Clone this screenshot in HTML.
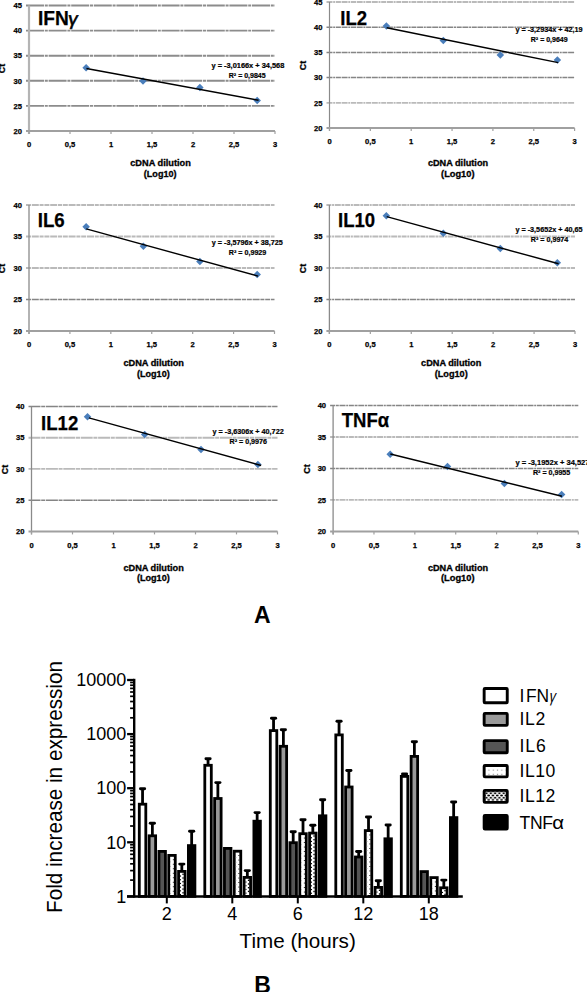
<!DOCTYPE html>
<html><head><meta charset="utf-8"><style>html,body{margin:0;padding:0;background:#fff;overflow:hidden}</style></head>
<body>
<svg width="587" height="992" viewBox="0 0 587 992" style="display:block">
<defs>
<pattern id="p10" x="486.8" y="766.4" width="4.3" height="4.1" patternUnits="userSpaceOnUse"><rect width="4.3" height="4.1" fill="#fff"/><rect x="1.6" y="3.5" width="1.1" height="1.0" fill="#222"/></pattern>
<pattern id="p12" x="486.5" y="793.3" width="4.3" height="4.4" patternUnits="userSpaceOnUse"><rect width="4.3" height="4.4" fill="#fff"/><ellipse cx="0" cy="0" rx="1.35" ry="0.85" fill="#000"/><ellipse cx="4.3" cy="0" rx="1.35" ry="0.85" fill="#000"/><ellipse cx="2.15" cy="2.2" rx="1.35" ry="0.85" fill="#000"/><ellipse cx="0" cy="4.4" rx="1.35" ry="0.85" fill="#000"/><ellipse cx="4.3" cy="4.4" rx="1.35" ry="0.85" fill="#000"/></pattern>
</defs>
<rect width="587" height="992" fill="#fff"/>
<line x1="26" y1="5.50" x2="275" y2="5.50" stroke="#8c8c8c" stroke-width="1.9" stroke-dasharray="18 0.8 3 0.8"/>
<text x="22" y="8.20" text-anchor="end" font-family='"Liberation Sans", sans-serif' font-weight="bold" font-size="7.6" stroke="#000" stroke-width="0.25">45</text>
<line x1="26" y1="30.60" x2="275" y2="30.60" stroke="#8c8c8c" stroke-width="1.9" stroke-dasharray="18 0.8 3 0.8"/>
<text x="22" y="33.30" text-anchor="end" font-family='"Liberation Sans", sans-serif' font-weight="bold" font-size="7.6" stroke="#000" stroke-width="0.25">40</text>
<line x1="26" y1="55.70" x2="275" y2="55.70" stroke="#8c8c8c" stroke-width="1.9" stroke-dasharray="18 0.8 3 0.8"/>
<text x="22" y="58.40" text-anchor="end" font-family='"Liberation Sans", sans-serif' font-weight="bold" font-size="7.6" stroke="#000" stroke-width="0.25">35</text>
<line x1="26" y1="80.80" x2="275" y2="80.80" stroke="#8c8c8c" stroke-width="1.9" stroke-dasharray="18 0.8 3 0.8"/>
<text x="22" y="83.50" text-anchor="end" font-family='"Liberation Sans", sans-serif' font-weight="bold" font-size="7.6" stroke="#000" stroke-width="0.25">30</text>
<line x1="26" y1="105.90" x2="275" y2="105.90" stroke="#8c8c8c" stroke-width="1.9" stroke-dasharray="18 0.8 3 0.8"/>
<text x="22" y="108.60" text-anchor="end" font-family='"Liberation Sans", sans-serif' font-weight="bold" font-size="7.6" stroke="#000" stroke-width="0.25">25</text>
<text x="22" y="133.70" text-anchor="end" font-family='"Liberation Sans", sans-serif' font-weight="bold" font-size="7.6" stroke="#000" stroke-width="0.25">20</text>
<line x1="29" y1="5.5" x2="29" y2="134" stroke="#b4b4b4" stroke-width="2.2"/>
<line x1="26" y1="131" x2="275" y2="131" stroke="#a0a0a0" stroke-width="2"/>
<line x1="29.00" y1="131" x2="29.00" y2="134" stroke="#a0a0a0" stroke-width="1.2"/>
<text x="29.00" y="147.30" text-anchor="middle" font-family='"Liberation Sans", sans-serif' font-weight="bold" font-size="7.6" stroke="#000" stroke-width="0.25">0</text>
<line x1="70.00" y1="131" x2="70.00" y2="134" stroke="#a0a0a0" stroke-width="1.2"/>
<text x="70.00" y="147.30" text-anchor="middle" font-family='"Liberation Sans", sans-serif' font-weight="bold" font-size="7.6" stroke="#000" stroke-width="0.25">0,5</text>
<line x1="111.00" y1="131" x2="111.00" y2="134" stroke="#a0a0a0" stroke-width="1.2"/>
<text x="111.00" y="147.30" text-anchor="middle" font-family='"Liberation Sans", sans-serif' font-weight="bold" font-size="7.6" stroke="#000" stroke-width="0.25">1</text>
<line x1="152.00" y1="131" x2="152.00" y2="134" stroke="#a0a0a0" stroke-width="1.2"/>
<text x="152.00" y="147.30" text-anchor="middle" font-family='"Liberation Sans", sans-serif' font-weight="bold" font-size="7.6" stroke="#000" stroke-width="0.25">1,5</text>
<line x1="193.00" y1="131" x2="193.00" y2="134" stroke="#a0a0a0" stroke-width="1.2"/>
<text x="193.00" y="147.30" text-anchor="middle" font-family='"Liberation Sans", sans-serif' font-weight="bold" font-size="7.6" stroke="#000" stroke-width="0.25">2</text>
<line x1="234.00" y1="131" x2="234.00" y2="134" stroke="#a0a0a0" stroke-width="1.2"/>
<text x="234.00" y="147.30" text-anchor="middle" font-family='"Liberation Sans", sans-serif' font-weight="bold" font-size="7.6" stroke="#000" stroke-width="0.25">2,5</text>
<line x1="275.00" y1="131" x2="275.00" y2="134" stroke="#a0a0a0" stroke-width="1.2"/>
<text x="275.00" y="147.30" text-anchor="middle" font-family='"Liberation Sans", sans-serif' font-weight="bold" font-size="7.6" stroke="#000" stroke-width="0.25">3</text>
<rect x="83.45" y="65.05" width="5.3" height="5.3" fill="#4a7ebb" transform="rotate(45 86.10 67.70)"/>
<rect x="140.35" y="78.25" width="5.3" height="5.3" fill="#4a7ebb" transform="rotate(45 143.00 80.90)"/>
<rect x="197.25" y="84.85" width="5.3" height="5.3" fill="#4a7ebb" transform="rotate(45 199.90 87.50)"/>
<rect x="254.55" y="97.75" width="5.3" height="5.3" fill="#4a7ebb" transform="rotate(45 257.20 100.40)"/>
<line x1="86.40" y1="68.47" x2="258.60" y2="100.27" stroke="#000" stroke-width="1.4"/>
<text x="38.0" y="25.1" font-family='"Liberation Sans", sans-serif' font-weight="bold" font-size="19.8" stroke="#000" stroke-width="0.25" textLength="30.8" lengthAdjust="spacingAndGlyphs">IFN</text>
<text x="0" y="0" transform="translate(67.6 25.1) skewX(-8)" font-family='"Liberation Sans", sans-serif' font-size="18.5" stroke="#000" stroke-width="0.6" textLength="9.6" lengthAdjust="spacingAndGlyphs">γ</text>
<text x="211.5" y="68.4" font-family='"Liberation Sans", sans-serif' font-weight="bold" font-size="7" stroke="#000" stroke-width="0.2" textLength="72.8" lengthAdjust="spacingAndGlyphs">y = -3,0166x + 34,568</text>
<text x="228.8" y="78.4" font-family='"Liberation Sans", sans-serif' font-weight="bold" font-size="7" stroke="#000" stroke-width="0.2" textLength="36.8" lengthAdjust="spacingAndGlyphs">R² = 0,9845</text>
<text x="130.2" y="166" font-family='"Liberation Sans", sans-serif' font-weight="bold" font-size="8.6" stroke="#000" stroke-width="0.3" textLength="60.6" lengthAdjust="spacingAndGlyphs">cDNA dilution</text>
<text x="143.8" y="176.6" font-family='"Liberation Sans", sans-serif' font-weight="bold" font-size="8.6" stroke="#000" stroke-width="0.3" textLength="32.7" lengthAdjust="spacingAndGlyphs">(Log10)</text>
<text x="5.0" y="68.5" text-anchor="middle" transform="rotate(-90 5.0 68.5)" font-family='"Liberation Sans", sans-serif' font-weight="bold" font-size="8.8" stroke="#000" stroke-width="0.3">Ct</text>
<line x1="326.5" y1="2.00" x2="574.6" y2="2.00" stroke="#bababa" stroke-width="1.8" stroke-dasharray="6 0.7 2 0.7 5 0.7"/>
<text x="322.5" y="4.70" text-anchor="end" font-family='"Liberation Sans", sans-serif' font-weight="bold" font-size="7.6" stroke="#000" stroke-width="0.25">45</text>
<line x1="326.5" y1="27.20" x2="574.6" y2="27.20" stroke="#858585" stroke-width="1.5" stroke-dasharray="6 0.7 2 0.7 5 0.7"/>
<text x="322.5" y="29.90" text-anchor="end" font-family='"Liberation Sans", sans-serif' font-weight="bold" font-size="7.6" stroke="#000" stroke-width="0.25">40</text>
<line x1="326.5" y1="52.40" x2="574.6" y2="52.40" stroke="#858585" stroke-width="1.5" stroke-dasharray="6 0.7 2 0.7 5 0.7"/>
<text x="322.5" y="55.10" text-anchor="end" font-family='"Liberation Sans", sans-serif' font-weight="bold" font-size="7.6" stroke="#000" stroke-width="0.25">35</text>
<line x1="326.5" y1="77.60" x2="574.6" y2="77.60" stroke="#858585" stroke-width="1.5" stroke-dasharray="6 0.7 2 0.7 5 0.7"/>
<text x="322.5" y="80.30" text-anchor="end" font-family='"Liberation Sans", sans-serif' font-weight="bold" font-size="7.6" stroke="#000" stroke-width="0.25">30</text>
<line x1="326.5" y1="102.80" x2="574.6" y2="102.80" stroke="#bababa" stroke-width="1.8" stroke-dasharray="6 0.7 2 0.7 5 0.7"/>
<text x="322.5" y="105.50" text-anchor="end" font-family='"Liberation Sans", sans-serif' font-weight="bold" font-size="7.6" stroke="#000" stroke-width="0.25">25</text>
<text x="322.5" y="130.70" text-anchor="end" font-family='"Liberation Sans", sans-serif' font-weight="bold" font-size="7.6" stroke="#000" stroke-width="0.25">20</text>
<line x1="329.5" y1="2" x2="329.5" y2="131" stroke="#8a8a8a" stroke-width="1.2"/>
<line x1="326.5" y1="128" x2="574.6" y2="128" stroke="#a0a0a0" stroke-width="2"/>
<line x1="329.50" y1="128" x2="329.50" y2="131" stroke="#a0a0a0" stroke-width="1.2"/>
<text x="329.50" y="144.30" text-anchor="middle" font-family='"Liberation Sans", sans-serif' font-weight="bold" font-size="7.6" stroke="#000" stroke-width="0.25">0</text>
<line x1="370.35" y1="128" x2="370.35" y2="131" stroke="#a0a0a0" stroke-width="1.2"/>
<text x="370.35" y="144.30" text-anchor="middle" font-family='"Liberation Sans", sans-serif' font-weight="bold" font-size="7.6" stroke="#000" stroke-width="0.25">0,5</text>
<line x1="411.20" y1="128" x2="411.20" y2="131" stroke="#a0a0a0" stroke-width="1.2"/>
<text x="411.20" y="144.30" text-anchor="middle" font-family='"Liberation Sans", sans-serif' font-weight="bold" font-size="7.6" stroke="#000" stroke-width="0.25">1</text>
<line x1="452.05" y1="128" x2="452.05" y2="131" stroke="#a0a0a0" stroke-width="1.2"/>
<text x="452.05" y="144.30" text-anchor="middle" font-family='"Liberation Sans", sans-serif' font-weight="bold" font-size="7.6" stroke="#000" stroke-width="0.25">1,5</text>
<line x1="492.90" y1="128" x2="492.90" y2="131" stroke="#a0a0a0" stroke-width="1.2"/>
<text x="492.90" y="144.30" text-anchor="middle" font-family='"Liberation Sans", sans-serif' font-weight="bold" font-size="7.6" stroke="#000" stroke-width="0.25">2</text>
<line x1="533.75" y1="128" x2="533.75" y2="131" stroke="#a0a0a0" stroke-width="1.2"/>
<text x="533.75" y="144.30" text-anchor="middle" font-family='"Liberation Sans", sans-serif' font-weight="bold" font-size="7.6" stroke="#000" stroke-width="0.25">2,5</text>
<line x1="574.60" y1="128" x2="574.60" y2="131" stroke="#a0a0a0" stroke-width="1.2"/>
<text x="574.60" y="144.30" text-anchor="middle" font-family='"Liberation Sans", sans-serif' font-weight="bold" font-size="7.6" stroke="#000" stroke-width="0.25">3</text>
<rect x="383.75" y="23.25" width="5.3" height="5.3" fill="#4a7ebb" transform="rotate(45 386.40 25.90)"/>
<rect x="440.65" y="37.95" width="5.3" height="5.3" fill="#4a7ebb" transform="rotate(45 443.30 40.60)"/>
<rect x="497.65" y="52.25" width="5.3" height="5.3" fill="#4a7ebb" transform="rotate(45 500.30 54.90)"/>
<rect x="554.75" y="57.35" width="5.3" height="5.3" fill="#4a7ebb" transform="rotate(45 557.40 60.00)"/>
<line x1="386.69" y1="27.78" x2="558.26" y2="62.64" stroke="#000" stroke-width="1.4"/>
<text x="340.3" y="25.1" font-family='"Liberation Sans", sans-serif' font-weight="bold" font-size="19.8" stroke="#000" stroke-width="0.25" textLength="26.8" lengthAdjust="spacingAndGlyphs">IL2</text>
<text x="515.4" y="32" font-family='"Liberation Sans", sans-serif' font-weight="bold" font-size="7" stroke="#000" stroke-width="0.2" textLength="67.2" lengthAdjust="spacingAndGlyphs">y = -3,2934x + 42,19</text>
<text x="530.8" y="41.8" font-family='"Liberation Sans", sans-serif' font-weight="bold" font-size="7" stroke="#000" stroke-width="0.2" textLength="36.8" lengthAdjust="spacingAndGlyphs">R² = 0,9649</text>
<text x="427.9" y="166.1" font-family='"Liberation Sans", sans-serif' font-weight="bold" font-size="8.6" stroke="#000" stroke-width="0.3" textLength="60.2" lengthAdjust="spacingAndGlyphs">cDNA dilution</text>
<text x="441.1" y="176.6" font-family='"Liberation Sans", sans-serif' font-weight="bold" font-size="8.6" stroke="#000" stroke-width="0.3" textLength="33.4" lengthAdjust="spacingAndGlyphs">(Log10)</text>
<text x="306" y="65.5" text-anchor="middle" transform="rotate(-90 306 65.5)" font-family='"Liberation Sans", sans-serif' font-weight="bold" font-size="8.8" stroke="#000" stroke-width="0.3">Ct</text>
<line x1="26" y1="205.00" x2="274.5" y2="205.00" stroke="#bababa" stroke-width="1.8" stroke-dasharray="5 0.8 7 0.8 4 0.8"/>
<text x="22" y="207.70" text-anchor="end" font-family='"Liberation Sans", sans-serif' font-weight="bold" font-size="7.6" stroke="#000" stroke-width="0.25">40</text>
<line x1="26" y1="236.50" x2="274.5" y2="236.50" stroke="#bababa" stroke-width="1.8" stroke-dasharray="5 0.8 7 0.8 4 0.8"/>
<text x="22" y="239.20" text-anchor="end" font-family='"Liberation Sans", sans-serif' font-weight="bold" font-size="7.6" stroke="#000" stroke-width="0.25">35</text>
<line x1="26" y1="268.00" x2="274.5" y2="268.00" stroke="#bababa" stroke-width="1.8" stroke-dasharray="5 0.8 7 0.8 4 0.8"/>
<text x="22" y="270.70" text-anchor="end" font-family='"Liberation Sans", sans-serif' font-weight="bold" font-size="7.6" stroke="#000" stroke-width="0.25">30</text>
<line x1="26" y1="299.50" x2="274.5" y2="299.50" stroke="#858585" stroke-width="1.5" stroke-dasharray="5 0.8 7 0.8 4 0.8"/>
<text x="22" y="302.20" text-anchor="end" font-family='"Liberation Sans", sans-serif' font-weight="bold" font-size="7.6" stroke="#000" stroke-width="0.25">25</text>
<text x="22" y="333.70" text-anchor="end" font-family='"Liberation Sans", sans-serif' font-weight="bold" font-size="7.6" stroke="#000" stroke-width="0.25">20</text>
<line x1="29" y1="205" x2="29" y2="334" stroke="#8a8a8a" stroke-width="1.3"/>
<line x1="26" y1="331" x2="274.5" y2="331" stroke="#a0a0a0" stroke-width="2"/>
<line x1="29.00" y1="331" x2="29.00" y2="334" stroke="#a0a0a0" stroke-width="1.2"/>
<text x="29.00" y="347.30" text-anchor="middle" font-family='"Liberation Sans", sans-serif' font-weight="bold" font-size="7.6" stroke="#000" stroke-width="0.25">0</text>
<line x1="69.92" y1="331" x2="69.92" y2="334" stroke="#a0a0a0" stroke-width="1.2"/>
<text x="69.92" y="347.30" text-anchor="middle" font-family='"Liberation Sans", sans-serif' font-weight="bold" font-size="7.6" stroke="#000" stroke-width="0.25">0,5</text>
<line x1="110.83" y1="331" x2="110.83" y2="334" stroke="#a0a0a0" stroke-width="1.2"/>
<text x="110.83" y="347.30" text-anchor="middle" font-family='"Liberation Sans", sans-serif' font-weight="bold" font-size="7.6" stroke="#000" stroke-width="0.25">1</text>
<line x1="151.75" y1="331" x2="151.75" y2="334" stroke="#a0a0a0" stroke-width="1.2"/>
<text x="151.75" y="347.30" text-anchor="middle" font-family='"Liberation Sans", sans-serif' font-weight="bold" font-size="7.6" stroke="#000" stroke-width="0.25">1,5</text>
<line x1="192.67" y1="331" x2="192.67" y2="334" stroke="#a0a0a0" stroke-width="1.2"/>
<text x="192.67" y="347.30" text-anchor="middle" font-family='"Liberation Sans", sans-serif' font-weight="bold" font-size="7.6" stroke="#000" stroke-width="0.25">2</text>
<line x1="233.58" y1="331" x2="233.58" y2="334" stroke="#a0a0a0" stroke-width="1.2"/>
<text x="233.58" y="347.30" text-anchor="middle" font-family='"Liberation Sans", sans-serif' font-weight="bold" font-size="7.6" stroke="#000" stroke-width="0.25">2,5</text>
<line x1="274.50" y1="331" x2="274.50" y2="334" stroke="#a0a0a0" stroke-width="1.2"/>
<text x="274.50" y="347.30" text-anchor="middle" font-family='"Liberation Sans", sans-serif' font-weight="bold" font-size="7.6" stroke="#000" stroke-width="0.25">3</text>
<rect x="83.45" y="224.15" width="5.3" height="5.3" fill="#4a7ebb" transform="rotate(45 86.10 226.80)"/>
<rect x="140.75" y="243.55" width="5.3" height="5.3" fill="#4a7ebb" transform="rotate(45 143.40 246.20)"/>
<rect x="197.25" y="258.95" width="5.3" height="5.3" fill="#4a7ebb" transform="rotate(45 199.90 261.60)"/>
<rect x="254.55" y="271.85" width="5.3" height="5.3" fill="#4a7ebb" transform="rotate(45 257.20 274.50)"/>
<line x1="86.28" y1="228.82" x2="258.13" y2="276.18" stroke="#000" stroke-width="1.4"/>
<text x="37.7" y="227.2" font-family='"Liberation Sans", sans-serif' font-weight="bold" font-size="19.8" stroke="#000" stroke-width="0.25" textLength="27.0" lengthAdjust="spacingAndGlyphs">IL6</text>
<text x="211.8" y="245" font-family='"Liberation Sans", sans-serif' font-weight="bold" font-size="7" stroke="#000" stroke-width="0.2" textLength="71.1" lengthAdjust="spacingAndGlyphs">y = -3,5796x + 38,725</text>
<text x="228.8" y="254.5" font-family='"Liberation Sans", sans-serif' font-weight="bold" font-size="7" stroke="#000" stroke-width="0.2" textLength="37.5" lengthAdjust="spacingAndGlyphs">R² = 0,9929</text>
<text x="123.4" y="366.3" font-family='"Liberation Sans", sans-serif' font-weight="bold" font-size="8.6" stroke="#000" stroke-width="0.3" textLength="60.6" lengthAdjust="spacingAndGlyphs">cDNA dilution</text>
<text x="137" y="376.6" font-family='"Liberation Sans", sans-serif' font-weight="bold" font-size="8.6" stroke="#000" stroke-width="0.3" textLength="32.7" lengthAdjust="spacingAndGlyphs">(Log10)</text>
<text x="5.0" y="268.5" text-anchor="middle" transform="rotate(-90 5.0 268.5)" font-family='"Liberation Sans", sans-serif' font-weight="bold" font-size="8.8" stroke="#000" stroke-width="0.3">Ct</text>
<line x1="326.4" y1="205.00" x2="575" y2="205.00" stroke="#bababa" stroke-width="1.8" stroke-dasharray="5 0.7 2 0.7 6 0.7 3 0.7"/>
<text x="322.4" y="207.70" text-anchor="end" font-family='"Liberation Sans", sans-serif' font-weight="bold" font-size="7.6" stroke="#000" stroke-width="0.25">40</text>
<line x1="326.4" y1="236.50" x2="575" y2="236.50" stroke="#bababa" stroke-width="1.8" stroke-dasharray="5 0.7 2 0.7 6 0.7 3 0.7"/>
<text x="322.4" y="239.20" text-anchor="end" font-family='"Liberation Sans", sans-serif' font-weight="bold" font-size="7.6" stroke="#000" stroke-width="0.25">35</text>
<line x1="326.4" y1="268.00" x2="575" y2="268.00" stroke="#bababa" stroke-width="1.8" stroke-dasharray="5 0.7 2 0.7 6 0.7 3 0.7"/>
<text x="322.4" y="270.70" text-anchor="end" font-family='"Liberation Sans", sans-serif' font-weight="bold" font-size="7.6" stroke="#000" stroke-width="0.25">30</text>
<line x1="326.4" y1="299.50" x2="575" y2="299.50" stroke="#858585" stroke-width="1.5" stroke-dasharray="5 0.7 2 0.7 6 0.7 3 0.7"/>
<text x="322.4" y="302.20" text-anchor="end" font-family='"Liberation Sans", sans-serif' font-weight="bold" font-size="7.6" stroke="#000" stroke-width="0.25">25</text>
<text x="322.4" y="333.70" text-anchor="end" font-family='"Liberation Sans", sans-serif' font-weight="bold" font-size="7.6" stroke="#000" stroke-width="0.25">20</text>
<line x1="329.4" y1="205" x2="329.4" y2="334" stroke="#8a8a8a" stroke-width="1.3"/>
<line x1="326.4" y1="331" x2="575" y2="331" stroke="#a0a0a0" stroke-width="2"/>
<line x1="329.40" y1="331" x2="329.40" y2="334" stroke="#a0a0a0" stroke-width="1.2"/>
<text x="329.40" y="347.30" text-anchor="middle" font-family='"Liberation Sans", sans-serif' font-weight="bold" font-size="7.6" stroke="#000" stroke-width="0.25">0</text>
<line x1="370.33" y1="331" x2="370.33" y2="334" stroke="#a0a0a0" stroke-width="1.2"/>
<text x="370.33" y="347.30" text-anchor="middle" font-family='"Liberation Sans", sans-serif' font-weight="bold" font-size="7.6" stroke="#000" stroke-width="0.25">0,5</text>
<line x1="411.27" y1="331" x2="411.27" y2="334" stroke="#a0a0a0" stroke-width="1.2"/>
<text x="411.27" y="347.30" text-anchor="middle" font-family='"Liberation Sans", sans-serif' font-weight="bold" font-size="7.6" stroke="#000" stroke-width="0.25">1</text>
<line x1="452.20" y1="331" x2="452.20" y2="334" stroke="#a0a0a0" stroke-width="1.2"/>
<text x="452.20" y="347.30" text-anchor="middle" font-family='"Liberation Sans", sans-serif' font-weight="bold" font-size="7.6" stroke="#000" stroke-width="0.25">1,5</text>
<line x1="493.13" y1="331" x2="493.13" y2="334" stroke="#a0a0a0" stroke-width="1.2"/>
<text x="493.13" y="347.30" text-anchor="middle" font-family='"Liberation Sans", sans-serif' font-weight="bold" font-size="7.6" stroke="#000" stroke-width="0.25">2</text>
<line x1="534.07" y1="331" x2="534.07" y2="334" stroke="#a0a0a0" stroke-width="1.2"/>
<text x="534.07" y="347.30" text-anchor="middle" font-family='"Liberation Sans", sans-serif' font-weight="bold" font-size="7.6" stroke="#000" stroke-width="0.25">2,5</text>
<line x1="575.00" y1="331" x2="575.00" y2="334" stroke="#a0a0a0" stroke-width="1.2"/>
<text x="575.00" y="347.30" text-anchor="middle" font-family='"Liberation Sans", sans-serif' font-weight="bold" font-size="7.6" stroke="#000" stroke-width="0.25">3</text>
<rect x="383.65" y="213.15" width="5.3" height="5.3" fill="#4a7ebb" transform="rotate(45 386.30 215.80)"/>
<rect x="440.65" y="230.55" width="5.3" height="5.3" fill="#4a7ebb" transform="rotate(45 443.30 233.20)"/>
<rect x="497.65" y="245.85" width="5.3" height="5.3" fill="#4a7ebb" transform="rotate(45 500.30 248.50)"/>
<rect x="554.65" y="260.15" width="5.3" height="5.3" fill="#4a7ebb" transform="rotate(45 557.30 262.80)"/>
<line x1="386.71" y1="216.63" x2="558.63" y2="263.80" stroke="#000" stroke-width="1.4"/>
<text x="338.0" y="227.2" font-family='"Liberation Sans", sans-serif' font-weight="bold" font-size="19.8" stroke="#000" stroke-width="0.25" textLength="37.2" lengthAdjust="spacingAndGlyphs">IL10</text>
<text x="515.4" y="232.3" font-family='"Liberation Sans", sans-serif' font-weight="bold" font-size="7" stroke="#000" stroke-width="0.2" textLength="67.2" lengthAdjust="spacingAndGlyphs">y = -3,5652x + 40,65</text>
<text x="530.8" y="241.8" font-family='"Liberation Sans", sans-serif' font-weight="bold" font-size="7" stroke="#000" stroke-width="0.2" textLength="37.5" lengthAdjust="spacingAndGlyphs">R² = 0,9974</text>
<text x="421.1" y="366.3" font-family='"Liberation Sans", sans-serif' font-weight="bold" font-size="8.6" stroke="#000" stroke-width="0.3" textLength="60.2" lengthAdjust="spacingAndGlyphs">cDNA dilution</text>
<text x="434.7" y="376.6" font-family='"Liberation Sans", sans-serif' font-weight="bold" font-size="8.6" stroke="#000" stroke-width="0.3" textLength="33.0" lengthAdjust="spacingAndGlyphs">(Log10)</text>
<text x="306" y="268.5" text-anchor="middle" transform="rotate(-90 306 268.5)" font-family='"Liberation Sans", sans-serif' font-weight="bold" font-size="8.8" stroke="#000" stroke-width="0.3">Ct</text>
<line x1="28.5" y1="406.50" x2="277.5" y2="406.50" stroke="#858585" stroke-width="1.5" stroke-dasharray="12 0.7 4 0.7"/>
<text x="24.5" y="409.20" text-anchor="end" font-family='"Liberation Sans", sans-serif' font-weight="bold" font-size="7.6" stroke="#000" stroke-width="0.25">40</text>
<line x1="28.5" y1="437.73" x2="277.5" y2="437.73" stroke="#bababa" stroke-width="1.8" stroke-dasharray="12 0.7 4 0.7"/>
<text x="24.5" y="440.43" text-anchor="end" font-family='"Liberation Sans", sans-serif' font-weight="bold" font-size="7.6" stroke="#000" stroke-width="0.25">35</text>
<line x1="28.5" y1="468.95" x2="277.5" y2="468.95" stroke="#bababa" stroke-width="1.8" stroke-dasharray="12 0.7 4 0.7"/>
<text x="24.5" y="471.65" text-anchor="end" font-family='"Liberation Sans", sans-serif' font-weight="bold" font-size="7.6" stroke="#000" stroke-width="0.25">30</text>
<line x1="28.5" y1="500.17" x2="277.5" y2="500.17" stroke="#858585" stroke-width="1.5" stroke-dasharray="12 0.7 4 0.7"/>
<text x="24.5" y="502.87" text-anchor="end" font-family='"Liberation Sans", sans-serif' font-weight="bold" font-size="7.6" stroke="#000" stroke-width="0.25">25</text>
<text x="24.5" y="534.10" text-anchor="end" font-family='"Liberation Sans", sans-serif' font-weight="bold" font-size="7.6" stroke="#000" stroke-width="0.25">20</text>
<line x1="31.5" y1="406.5" x2="31.5" y2="534.4" stroke="#8a8a8a" stroke-width="1.3"/>
<line x1="28.5" y1="531.4" x2="277.5" y2="531.4" stroke="#a0a0a0" stroke-width="2"/>
<line x1="31.50" y1="531.4" x2="31.50" y2="534.4" stroke="#a0a0a0" stroke-width="1.2"/>
<text x="31.50" y="547.70" text-anchor="middle" font-family='"Liberation Sans", sans-serif' font-weight="bold" font-size="7.6" stroke="#000" stroke-width="0.25">0</text>
<line x1="72.50" y1="531.4" x2="72.50" y2="534.4" stroke="#a0a0a0" stroke-width="1.2"/>
<text x="72.50" y="547.70" text-anchor="middle" font-family='"Liberation Sans", sans-serif' font-weight="bold" font-size="7.6" stroke="#000" stroke-width="0.25">0,5</text>
<line x1="113.50" y1="531.4" x2="113.50" y2="534.4" stroke="#a0a0a0" stroke-width="1.2"/>
<text x="113.50" y="547.70" text-anchor="middle" font-family='"Liberation Sans", sans-serif' font-weight="bold" font-size="7.6" stroke="#000" stroke-width="0.25">1</text>
<line x1="154.50" y1="531.4" x2="154.50" y2="534.4" stroke="#a0a0a0" stroke-width="1.2"/>
<text x="154.50" y="547.70" text-anchor="middle" font-family='"Liberation Sans", sans-serif' font-weight="bold" font-size="7.6" stroke="#000" stroke-width="0.25">1,5</text>
<line x1="195.50" y1="531.4" x2="195.50" y2="534.4" stroke="#a0a0a0" stroke-width="1.2"/>
<text x="195.50" y="547.70" text-anchor="middle" font-family='"Liberation Sans", sans-serif' font-weight="bold" font-size="7.6" stroke="#000" stroke-width="0.25">2</text>
<line x1="236.50" y1="531.4" x2="236.50" y2="534.4" stroke="#a0a0a0" stroke-width="1.2"/>
<text x="236.50" y="547.70" text-anchor="middle" font-family='"Liberation Sans", sans-serif' font-weight="bold" font-size="7.6" stroke="#000" stroke-width="0.25">2,5</text>
<line x1="277.50" y1="531.4" x2="277.50" y2="534.4" stroke="#a0a0a0" stroke-width="1.2"/>
<text x="277.50" y="547.70" text-anchor="middle" font-family='"Liberation Sans", sans-serif' font-weight="bold" font-size="7.6" stroke="#000" stroke-width="0.25">3</text>
<rect x="84.85" y="414.15" width="5.3" height="5.3" fill="#4a7ebb" transform="rotate(45 87.50 416.80)"/>
<rect x="142.05" y="431.85" width="5.3" height="5.3" fill="#4a7ebb" transform="rotate(45 144.70 434.50)"/>
<rect x="198.35" y="446.85" width="5.3" height="5.3" fill="#4a7ebb" transform="rotate(45 201.00 449.50)"/>
<rect x="255.25" y="461.85" width="5.3" height="5.3" fill="#4a7ebb" transform="rotate(45 257.90 464.50)"/>
<line x1="88.90" y1="417.86" x2="261.10" y2="465.48" stroke="#000" stroke-width="1.4"/>
<text x="41.1" y="430.2" font-family='"Liberation Sans", sans-serif' font-weight="bold" font-size="19.8" stroke="#000" stroke-width="0.25" textLength="37.2" lengthAdjust="spacingAndGlyphs">IL12</text>
<text x="212.5" y="434.3" font-family='"Liberation Sans", sans-serif' font-weight="bold" font-size="7" stroke="#000" stroke-width="0.2" textLength="71.2" lengthAdjust="spacingAndGlyphs">y = -3,6306x + 40,722</text>
<text x="229.5" y="443.8" font-family='"Liberation Sans", sans-serif' font-weight="bold" font-size="7" stroke="#000" stroke-width="0.2" textLength="37.5" lengthAdjust="spacingAndGlyphs">R² = 0,9976</text>
<text x="123.4" y="571.1" font-family='"Liberation Sans", sans-serif' font-weight="bold" font-size="8.6" stroke="#000" stroke-width="0.3" textLength="60.4" lengthAdjust="spacingAndGlyphs">cDNA dilution</text>
<text x="137" y="581.3" font-family='"Liberation Sans", sans-serif' font-weight="bold" font-size="8.6" stroke="#000" stroke-width="0.3" textLength="32.7" lengthAdjust="spacingAndGlyphs">(Log10)</text>
<text x="8.2" y="469.5" text-anchor="middle" transform="rotate(-90 8.2 469.5)" font-family='"Liberation Sans", sans-serif' font-weight="bold" font-size="8.8" stroke="#000" stroke-width="0.3">Ct</text>
<line x1="330.1" y1="405.50" x2="578.3" y2="405.50" stroke="#858585" stroke-width="1.5" stroke-dasharray="5 0.7 3 0.7 6 0.7 2 0.7"/>
<text x="326.1" y="408.20" text-anchor="end" font-family='"Liberation Sans", sans-serif' font-weight="bold" font-size="7.6" stroke="#000" stroke-width="0.25">40</text>
<line x1="330.1" y1="436.98" x2="578.3" y2="436.98" stroke="#bababa" stroke-width="1.8" stroke-dasharray="5 0.7 3 0.7 6 0.7 2 0.7"/>
<text x="326.1" y="439.68" text-anchor="end" font-family='"Liberation Sans", sans-serif' font-weight="bold" font-size="7.6" stroke="#000" stroke-width="0.25">35</text>
<line x1="330.1" y1="468.45" x2="578.3" y2="468.45" stroke="#858585" stroke-width="1.5" stroke-dasharray="5 0.7 3 0.7 6 0.7 2 0.7"/>
<text x="326.1" y="471.15" text-anchor="end" font-family='"Liberation Sans", sans-serif' font-weight="bold" font-size="7.6" stroke="#000" stroke-width="0.25">30</text>
<line x1="330.1" y1="499.92" x2="578.3" y2="499.92" stroke="#bababa" stroke-width="1.8" stroke-dasharray="5 0.7 3 0.7 6 0.7 2 0.7"/>
<text x="326.1" y="502.62" text-anchor="end" font-family='"Liberation Sans", sans-serif' font-weight="bold" font-size="7.6" stroke="#000" stroke-width="0.25">25</text>
<text x="326.1" y="534.10" text-anchor="end" font-family='"Liberation Sans", sans-serif' font-weight="bold" font-size="7.6" stroke="#000" stroke-width="0.25">20</text>
<line x1="333.1" y1="405.5" x2="333.1" y2="534.4" stroke="#8a8a8a" stroke-width="1.3"/>
<line x1="330.1" y1="531.4" x2="578.3" y2="531.4" stroke="#a0a0a0" stroke-width="2"/>
<line x1="333.10" y1="531.4" x2="333.10" y2="534.4" stroke="#a0a0a0" stroke-width="1.2"/>
<text x="333.10" y="547.70" text-anchor="middle" font-family='"Liberation Sans", sans-serif' font-weight="bold" font-size="7.6" stroke="#000" stroke-width="0.25">0</text>
<line x1="373.97" y1="531.4" x2="373.97" y2="534.4" stroke="#a0a0a0" stroke-width="1.2"/>
<text x="373.97" y="547.70" text-anchor="middle" font-family='"Liberation Sans", sans-serif' font-weight="bold" font-size="7.6" stroke="#000" stroke-width="0.25">0,5</text>
<line x1="414.83" y1="531.4" x2="414.83" y2="534.4" stroke="#a0a0a0" stroke-width="1.2"/>
<text x="414.83" y="547.70" text-anchor="middle" font-family='"Liberation Sans", sans-serif' font-weight="bold" font-size="7.6" stroke="#000" stroke-width="0.25">1</text>
<line x1="455.70" y1="531.4" x2="455.70" y2="534.4" stroke="#a0a0a0" stroke-width="1.2"/>
<text x="455.70" y="547.70" text-anchor="middle" font-family='"Liberation Sans", sans-serif' font-weight="bold" font-size="7.6" stroke="#000" stroke-width="0.25">1,5</text>
<line x1="496.57" y1="531.4" x2="496.57" y2="534.4" stroke="#a0a0a0" stroke-width="1.2"/>
<text x="496.57" y="547.70" text-anchor="middle" font-family='"Liberation Sans", sans-serif' font-weight="bold" font-size="7.6" stroke="#000" stroke-width="0.25">2</text>
<line x1="537.43" y1="531.4" x2="537.43" y2="534.4" stroke="#a0a0a0" stroke-width="1.2"/>
<text x="537.43" y="547.70" text-anchor="middle" font-family='"Liberation Sans", sans-serif' font-weight="bold" font-size="7.6" stroke="#000" stroke-width="0.25">2,5</text>
<line x1="578.30" y1="531.4" x2="578.30" y2="534.4" stroke="#a0a0a0" stroke-width="1.2"/>
<text x="578.30" y="547.70" text-anchor="middle" font-family='"Liberation Sans", sans-serif' font-weight="bold" font-size="7.6" stroke="#000" stroke-width="0.25">3</text>
<rect x="387.55" y="451.65" width="5.3" height="5.3" fill="#4a7ebb" transform="rotate(45 390.20 454.30)"/>
<rect x="444.85" y="463.95" width="5.3" height="5.3" fill="#4a7ebb" transform="rotate(45 447.50 466.60)"/>
<rect x="501.75" y="480.95" width="5.3" height="5.3" fill="#4a7ebb" transform="rotate(45 504.40 483.60)"/>
<rect x="558.95" y="491.85" width="5.3" height="5.3" fill="#4a7ebb" transform="rotate(45 561.60 494.50)"/>
<line x1="390.31" y1="454.03" x2="561.95" y2="496.27" stroke="#000" stroke-width="1.4"/>
<text x="341.7" y="427.0" font-family='"Liberation Sans", sans-serif' font-weight="bold" font-size="19.8" stroke="#000" stroke-width="0.25" textLength="47.4" lengthAdjust="spacingAndGlyphs">TNFα</text>
<text x="515.4" y="465" font-family='"Liberation Sans", sans-serif' font-weight="bold" font-size="7" stroke="#000" stroke-width="0.2" textLength="74.1" lengthAdjust="spacingAndGlyphs">y = -3,1952x + 34,527</text>
<text x="532.9" y="474.5" font-family='"Liberation Sans", sans-serif' font-weight="bold" font-size="7" stroke="#000" stroke-width="0.2" textLength="37.4" lengthAdjust="spacingAndGlyphs">R² = 0,9955</text>
<text x="427.9" y="571.1" font-family='"Liberation Sans", sans-serif' font-weight="bold" font-size="8.6" stroke="#000" stroke-width="0.3" textLength="60.2" lengthAdjust="spacingAndGlyphs">cDNA dilution</text>
<text x="441" y="581.3" font-family='"Liberation Sans", sans-serif' font-weight="bold" font-size="8.6" stroke="#000" stroke-width="0.3" textLength="33.5" lengthAdjust="spacingAndGlyphs">(Log10)</text>
<text x="310" y="469" text-anchor="middle" transform="rotate(-90 310 469)" font-family='"Liberation Sans", sans-serif' font-weight="bold" font-size="8.8" stroke="#000" stroke-width="0.3">Ct</text>
<text x="262.4" y="622.7" text-anchor="middle" font-family='"Liberation Sans", sans-serif' font-weight="bold" font-size="23">A</text>
<text x="262.5" y="992.8" text-anchor="middle" font-family='"Liberation Sans", sans-serif' font-weight="bold" font-size="23">B</text>
<line x1="134.2" y1="678.8" x2="134.2" y2="897.6" stroke="#000" stroke-width="2.4"/>
<line x1="127.1" y1="896.40" x2="134.2" y2="896.40" stroke="#000" stroke-width="2.3"/>
<text x="126.2" y="902.60" text-anchor="end" font-family='"Liberation Sans", sans-serif' font-size="18">1</text>
<line x1="130.1" y1="880.11" x2="134.2" y2="880.11" stroke="#000" stroke-width="1.7"/>
<line x1="130.1" y1="870.59" x2="134.2" y2="870.59" stroke="#000" stroke-width="1.7"/>
<line x1="130.1" y1="863.83" x2="134.2" y2="863.83" stroke="#000" stroke-width="1.7"/>
<line x1="130.1" y1="858.59" x2="134.2" y2="858.59" stroke="#000" stroke-width="1.7"/>
<line x1="130.1" y1="854.30" x2="134.2" y2="854.30" stroke="#000" stroke-width="1.7"/>
<line x1="130.1" y1="850.68" x2="134.2" y2="850.68" stroke="#000" stroke-width="1.7"/>
<line x1="130.1" y1="847.54" x2="134.2" y2="847.54" stroke="#000" stroke-width="1.7"/>
<line x1="130.1" y1="844.78" x2="134.2" y2="844.78" stroke="#000" stroke-width="1.7"/>
<line x1="127.1" y1="842.30" x2="134.2" y2="842.30" stroke="#000" stroke-width="2.3"/>
<text x="126.2" y="848.50" text-anchor="end" font-family='"Liberation Sans", sans-serif' font-size="18">10</text>
<line x1="130.1" y1="826.01" x2="134.2" y2="826.01" stroke="#000" stroke-width="1.7"/>
<line x1="130.1" y1="816.49" x2="134.2" y2="816.49" stroke="#000" stroke-width="1.7"/>
<line x1="130.1" y1="809.73" x2="134.2" y2="809.73" stroke="#000" stroke-width="1.7"/>
<line x1="130.1" y1="804.49" x2="134.2" y2="804.49" stroke="#000" stroke-width="1.7"/>
<line x1="130.1" y1="800.20" x2="134.2" y2="800.20" stroke="#000" stroke-width="1.7"/>
<line x1="130.1" y1="796.58" x2="134.2" y2="796.58" stroke="#000" stroke-width="1.7"/>
<line x1="130.1" y1="793.44" x2="134.2" y2="793.44" stroke="#000" stroke-width="1.7"/>
<line x1="130.1" y1="790.68" x2="134.2" y2="790.68" stroke="#000" stroke-width="1.7"/>
<line x1="127.1" y1="788.20" x2="134.2" y2="788.20" stroke="#000" stroke-width="2.3"/>
<text x="126.2" y="794.40" text-anchor="end" font-family='"Liberation Sans", sans-serif' font-size="18">100</text>
<line x1="130.1" y1="771.91" x2="134.2" y2="771.91" stroke="#000" stroke-width="1.7"/>
<line x1="130.1" y1="762.39" x2="134.2" y2="762.39" stroke="#000" stroke-width="1.7"/>
<line x1="130.1" y1="755.63" x2="134.2" y2="755.63" stroke="#000" stroke-width="1.7"/>
<line x1="130.1" y1="750.39" x2="134.2" y2="750.39" stroke="#000" stroke-width="1.7"/>
<line x1="130.1" y1="746.10" x2="134.2" y2="746.10" stroke="#000" stroke-width="1.7"/>
<line x1="130.1" y1="742.48" x2="134.2" y2="742.48" stroke="#000" stroke-width="1.7"/>
<line x1="130.1" y1="739.34" x2="134.2" y2="739.34" stroke="#000" stroke-width="1.7"/>
<line x1="130.1" y1="736.58" x2="134.2" y2="736.58" stroke="#000" stroke-width="1.7"/>
<line x1="127.1" y1="734.10" x2="134.2" y2="734.10" stroke="#000" stroke-width="2.3"/>
<text x="126.2" y="740.30" text-anchor="end" font-family='"Liberation Sans", sans-serif' font-size="18">1000</text>
<line x1="130.1" y1="717.81" x2="134.2" y2="717.81" stroke="#000" stroke-width="1.7"/>
<line x1="130.1" y1="708.29" x2="134.2" y2="708.29" stroke="#000" stroke-width="1.7"/>
<line x1="130.1" y1="701.53" x2="134.2" y2="701.53" stroke="#000" stroke-width="1.7"/>
<line x1="130.1" y1="696.29" x2="134.2" y2="696.29" stroke="#000" stroke-width="1.7"/>
<line x1="130.1" y1="692.00" x2="134.2" y2="692.00" stroke="#000" stroke-width="1.7"/>
<line x1="130.1" y1="688.38" x2="134.2" y2="688.38" stroke="#000" stroke-width="1.7"/>
<line x1="130.1" y1="685.24" x2="134.2" y2="685.24" stroke="#000" stroke-width="1.7"/>
<line x1="130.1" y1="682.48" x2="134.2" y2="682.48" stroke="#000" stroke-width="1.7"/>
<line x1="127.1" y1="680.00" x2="134.2" y2="680.00" stroke="#000" stroke-width="2.3"/>
<text x="126.2" y="686.20" text-anchor="end" font-family='"Liberation Sans", sans-serif' font-size="18">10000</text>
<line x1="127.0" y1="896.4" x2="462.8" y2="896.4" stroke="#000" stroke-width="2.5"/>
<line x1="166.8" y1="896.4" x2="166.8" y2="903.4" stroke="#000" stroke-width="2"/>
<text x="166.8" y="919.8" text-anchor="middle" font-family='"Liberation Sans", sans-serif' font-size="18">2</text>
<line x1="232.3" y1="896.4" x2="232.3" y2="903.4" stroke="#000" stroke-width="2"/>
<text x="232.3" y="919.8" text-anchor="middle" font-family='"Liberation Sans", sans-serif' font-size="18">4</text>
<line x1="297.8" y1="896.4" x2="297.8" y2="903.4" stroke="#000" stroke-width="2"/>
<text x="297.8" y="919.8" text-anchor="middle" font-family='"Liberation Sans", sans-serif' font-size="18">6</text>
<line x1="363.3" y1="896.4" x2="363.3" y2="903.4" stroke="#000" stroke-width="2"/>
<text x="363.3" y="919.8" text-anchor="middle" font-family='"Liberation Sans", sans-serif' font-size="18">12</text>
<line x1="428.8" y1="896.4" x2="428.8" y2="903.4" stroke="#000" stroke-width="2"/>
<text x="428.8" y="919.8" text-anchor="middle" font-family='"Liberation Sans", sans-serif' font-size="18">18</text>
<text x="239.6" y="947.5" font-family='"Liberation Sans", sans-serif' font-size="20.8" textLength="116.2" lengthAdjust="spacingAndGlyphs">Time (hours)</text>
<text x="0" y="0" transform="translate(62.3 913.0) rotate(-90)" font-family='"Liberation Sans", sans-serif' font-size="21.2" textLength="252.0" lengthAdjust="spacingAndGlyphs">Fold increase in expression</text>
<line x1="142.55" y1="788.70" x2="142.55" y2="803.80" stroke="#000" stroke-width="2.8"/>
<line x1="140.45" y1="788.70" x2="144.65" y2="788.70" stroke="#000" stroke-width="2.9" stroke-linecap="round"/>
<rect x="139.30" y="804.20" width="6.50" height="92.20" fill="#fff" stroke="#000" stroke-width="2.8"/>
<line x1="152.37" y1="823.30" x2="152.37" y2="835.40" stroke="#000" stroke-width="2.8"/>
<line x1="150.27" y1="823.30" x2="154.47" y2="823.30" stroke="#000" stroke-width="2.9" stroke-linecap="round"/>
<rect x="149.12" y="835.80" width="6.50" height="60.60" fill="#9a9a9a" stroke="#000" stroke-width="2.8"/>
<rect x="158.94" y="851.40" width="6.50" height="45.00" fill="#555" stroke="#000" stroke-width="2.8"/>
<rect x="168.76" y="855.40" width="6.50" height="41.00" fill="#fff" stroke="#000" stroke-width="2.8"/>
<rect x="172.86" y="859.30" width="1" height="0.9" fill="#000"/>
<rect x="170.16" y="861.50" width="0.8" height="0.8" fill="#999"/>
<rect x="172.86" y="863.80" width="1" height="0.9" fill="#000"/>
<rect x="170.16" y="866.00" width="0.8" height="0.8" fill="#999"/>
<rect x="172.86" y="868.30" width="1" height="0.9" fill="#000"/>
<rect x="170.16" y="870.50" width="0.8" height="0.8" fill="#999"/>
<rect x="172.86" y="872.80" width="1" height="0.9" fill="#000"/>
<rect x="170.16" y="875.00" width="0.8" height="0.8" fill="#999"/>
<rect x="172.86" y="877.30" width="1" height="0.9" fill="#000"/>
<rect x="170.16" y="879.50" width="0.8" height="0.8" fill="#999"/>
<rect x="172.86" y="881.80" width="1" height="0.9" fill="#000"/>
<rect x="170.16" y="884.00" width="0.8" height="0.8" fill="#999"/>
<rect x="172.86" y="886.30" width="1" height="0.9" fill="#000"/>
<rect x="170.16" y="888.50" width="0.8" height="0.8" fill="#999"/>
<rect x="172.86" y="890.80" width="1" height="0.9" fill="#000"/>
<rect x="170.16" y="893.00" width="0.8" height="0.8" fill="#999"/>
<line x1="181.83" y1="864.10" x2="181.83" y2="871.00" stroke="#000" stroke-width="2.8"/>
<line x1="179.73" y1="864.10" x2="183.93" y2="864.10" stroke="#000" stroke-width="2.9" stroke-linecap="round"/>
<rect x="178.58" y="871.40" width="6.50" height="25.00" fill="#fff" stroke="#000" stroke-width="2.8"/>
<rect x="182.38" y="873.60" width="1.3" height="1.4" fill="#000"/>
<rect x="179.98" y="875.45" width="1.0" height="1.2" fill="#000"/>
<rect x="182.38" y="877.30" width="1.3" height="1.4" fill="#000"/>
<rect x="179.98" y="879.15" width="1.0" height="1.2" fill="#000"/>
<rect x="182.38" y="881.00" width="1.3" height="1.4" fill="#000"/>
<rect x="179.98" y="882.85" width="1.0" height="1.2" fill="#000"/>
<rect x="182.38" y="884.70" width="1.3" height="1.4" fill="#000"/>
<rect x="179.98" y="886.55" width="1.0" height="1.2" fill="#000"/>
<rect x="182.38" y="888.40" width="1.3" height="1.4" fill="#000"/>
<rect x="179.98" y="890.25" width="1.0" height="1.2" fill="#000"/>
<rect x="182.38" y="892.10" width="1.3" height="1.4" fill="#000"/>
<rect x="179.98" y="893.95" width="1.0" height="1.2" fill="#000"/>
<line x1="191.65" y1="831.30" x2="191.65" y2="845.20" stroke="#000" stroke-width="2.8"/>
<line x1="189.55" y1="831.30" x2="193.75" y2="831.30" stroke="#000" stroke-width="2.9" stroke-linecap="round"/>
<rect x="188.40" y="845.60" width="6.50" height="50.80" fill="#000" stroke="#000" stroke-width="2.8"/>
<line x1="208.05" y1="758.70" x2="208.05" y2="764.90" stroke="#000" stroke-width="2.8"/>
<line x1="205.95" y1="758.70" x2="210.15" y2="758.70" stroke="#000" stroke-width="2.9" stroke-linecap="round"/>
<rect x="204.80" y="765.30" width="6.50" height="131.10" fill="#fff" stroke="#000" stroke-width="2.8"/>
<line x1="217.87" y1="782.60" x2="217.87" y2="798.10" stroke="#000" stroke-width="2.8"/>
<line x1="215.77" y1="782.60" x2="219.97" y2="782.60" stroke="#000" stroke-width="2.9" stroke-linecap="round"/>
<rect x="214.62" y="798.50" width="6.50" height="97.90" fill="#9a9a9a" stroke="#000" stroke-width="2.8"/>
<rect x="224.44" y="848.40" width="6.50" height="48.00" fill="#555" stroke="#000" stroke-width="2.8"/>
<rect x="234.26" y="851.20" width="6.50" height="45.20" fill="#fff" stroke="#000" stroke-width="2.8"/>
<rect x="238.36" y="855.10" width="1" height="0.9" fill="#000"/>
<rect x="235.66" y="857.30" width="0.8" height="0.8" fill="#999"/>
<rect x="238.36" y="859.60" width="1" height="0.9" fill="#000"/>
<rect x="235.66" y="861.80" width="0.8" height="0.8" fill="#999"/>
<rect x="238.36" y="864.10" width="1" height="0.9" fill="#000"/>
<rect x="235.66" y="866.30" width="0.8" height="0.8" fill="#999"/>
<rect x="238.36" y="868.60" width="1" height="0.9" fill="#000"/>
<rect x="235.66" y="870.80" width="0.8" height="0.8" fill="#999"/>
<rect x="238.36" y="873.10" width="1" height="0.9" fill="#000"/>
<rect x="235.66" y="875.30" width="0.8" height="0.8" fill="#999"/>
<rect x="238.36" y="877.60" width="1" height="0.9" fill="#000"/>
<rect x="235.66" y="879.80" width="0.8" height="0.8" fill="#999"/>
<rect x="238.36" y="882.10" width="1" height="0.9" fill="#000"/>
<rect x="235.66" y="884.30" width="0.8" height="0.8" fill="#999"/>
<rect x="238.36" y="886.60" width="1" height="0.9" fill="#000"/>
<rect x="235.66" y="888.80" width="0.8" height="0.8" fill="#999"/>
<rect x="238.36" y="891.10" width="1" height="0.9" fill="#000"/>
<rect x="235.66" y="893.30" width="0.8" height="0.8" fill="#999"/>
<line x1="247.33" y1="870.60" x2="247.33" y2="877.00" stroke="#000" stroke-width="2.8"/>
<line x1="245.23" y1="870.60" x2="249.43" y2="870.60" stroke="#000" stroke-width="2.9" stroke-linecap="round"/>
<rect x="244.08" y="877.40" width="6.50" height="19.00" fill="#fff" stroke="#000" stroke-width="2.8"/>
<rect x="247.88" y="879.60" width="1.3" height="1.4" fill="#000"/>
<rect x="245.48" y="881.45" width="1.0" height="1.2" fill="#000"/>
<rect x="247.88" y="883.30" width="1.3" height="1.4" fill="#000"/>
<rect x="245.48" y="885.15" width="1.0" height="1.2" fill="#000"/>
<rect x="247.88" y="887.00" width="1.3" height="1.4" fill="#000"/>
<rect x="245.48" y="888.85" width="1.0" height="1.2" fill="#000"/>
<rect x="247.88" y="890.70" width="1.3" height="1.4" fill="#000"/>
<rect x="245.48" y="892.55" width="1.0" height="1.2" fill="#000"/>
<line x1="257.15" y1="812.60" x2="257.15" y2="820.80" stroke="#000" stroke-width="2.8"/>
<line x1="255.05" y1="812.60" x2="259.25" y2="812.60" stroke="#000" stroke-width="2.9" stroke-linecap="round"/>
<rect x="253.90" y="821.20" width="6.50" height="75.20" fill="#000" stroke="#000" stroke-width="2.8"/>
<line x1="273.55" y1="718.30" x2="273.55" y2="730.20" stroke="#000" stroke-width="2.8"/>
<line x1="271.45" y1="718.30" x2="275.65" y2="718.30" stroke="#000" stroke-width="2.9" stroke-linecap="round"/>
<rect x="270.30" y="730.60" width="6.50" height="165.80" fill="#fff" stroke="#000" stroke-width="2.8"/>
<line x1="283.37" y1="729.70" x2="283.37" y2="745.90" stroke="#000" stroke-width="2.8"/>
<line x1="281.27" y1="729.70" x2="285.47" y2="729.70" stroke="#000" stroke-width="2.9" stroke-linecap="round"/>
<rect x="280.12" y="746.30" width="6.50" height="150.10" fill="#9a9a9a" stroke="#000" stroke-width="2.8"/>
<line x1="293.19" y1="831.70" x2="293.19" y2="842.30" stroke="#000" stroke-width="2.8"/>
<line x1="291.09" y1="831.70" x2="295.29" y2="831.70" stroke="#000" stroke-width="2.9" stroke-linecap="round"/>
<rect x="289.94" y="842.70" width="6.50" height="53.70" fill="#555" stroke="#000" stroke-width="2.8"/>
<line x1="303.01" y1="819.80" x2="303.01" y2="833.30" stroke="#000" stroke-width="2.8"/>
<line x1="300.91" y1="819.80" x2="305.11" y2="819.80" stroke="#000" stroke-width="2.9" stroke-linecap="round"/>
<rect x="299.76" y="833.70" width="6.50" height="62.70" fill="#fff" stroke="#000" stroke-width="2.8"/>
<rect x="303.86" y="837.60" width="1" height="0.9" fill="#000"/>
<rect x="301.16" y="839.80" width="0.8" height="0.8" fill="#999"/>
<rect x="303.86" y="842.10" width="1" height="0.9" fill="#000"/>
<rect x="301.16" y="844.30" width="0.8" height="0.8" fill="#999"/>
<rect x="303.86" y="846.60" width="1" height="0.9" fill="#000"/>
<rect x="301.16" y="848.80" width="0.8" height="0.8" fill="#999"/>
<rect x="303.86" y="851.10" width="1" height="0.9" fill="#000"/>
<rect x="301.16" y="853.30" width="0.8" height="0.8" fill="#999"/>
<rect x="303.86" y="855.60" width="1" height="0.9" fill="#000"/>
<rect x="301.16" y="857.80" width="0.8" height="0.8" fill="#999"/>
<rect x="303.86" y="860.10" width="1" height="0.9" fill="#000"/>
<rect x="301.16" y="862.30" width="0.8" height="0.8" fill="#999"/>
<rect x="303.86" y="864.60" width="1" height="0.9" fill="#000"/>
<rect x="301.16" y="866.80" width="0.8" height="0.8" fill="#999"/>
<rect x="303.86" y="869.10" width="1" height="0.9" fill="#000"/>
<rect x="301.16" y="871.30" width="0.8" height="0.8" fill="#999"/>
<rect x="303.86" y="873.60" width="1" height="0.9" fill="#000"/>
<rect x="301.16" y="875.80" width="0.8" height="0.8" fill="#999"/>
<rect x="303.86" y="878.10" width="1" height="0.9" fill="#000"/>
<rect x="301.16" y="880.30" width="0.8" height="0.8" fill="#999"/>
<rect x="303.86" y="882.60" width="1" height="0.9" fill="#000"/>
<rect x="301.16" y="884.80" width="0.8" height="0.8" fill="#999"/>
<rect x="303.86" y="887.10" width="1" height="0.9" fill="#000"/>
<rect x="301.16" y="889.30" width="0.8" height="0.8" fill="#999"/>
<rect x="303.86" y="891.60" width="1" height="0.9" fill="#000"/>
<rect x="301.16" y="893.80" width="0.8" height="0.8" fill="#999"/>
<line x1="312.83" y1="825.20" x2="312.83" y2="832.70" stroke="#000" stroke-width="2.8"/>
<line x1="310.73" y1="825.20" x2="314.93" y2="825.20" stroke="#000" stroke-width="2.9" stroke-linecap="round"/>
<rect x="309.58" y="833.10" width="6.50" height="63.30" fill="#fff" stroke="#000" stroke-width="2.8"/>
<rect x="313.38" y="835.30" width="1.3" height="1.4" fill="#000"/>
<rect x="310.98" y="837.15" width="1.0" height="1.2" fill="#000"/>
<rect x="313.38" y="839.00" width="1.3" height="1.4" fill="#000"/>
<rect x="310.98" y="840.85" width="1.0" height="1.2" fill="#000"/>
<rect x="313.38" y="842.70" width="1.3" height="1.4" fill="#000"/>
<rect x="310.98" y="844.55" width="1.0" height="1.2" fill="#000"/>
<rect x="313.38" y="846.40" width="1.3" height="1.4" fill="#000"/>
<rect x="310.98" y="848.25" width="1.0" height="1.2" fill="#000"/>
<rect x="313.38" y="850.10" width="1.3" height="1.4" fill="#000"/>
<rect x="310.98" y="851.95" width="1.0" height="1.2" fill="#000"/>
<rect x="313.38" y="853.80" width="1.3" height="1.4" fill="#000"/>
<rect x="310.98" y="855.65" width="1.0" height="1.2" fill="#000"/>
<rect x="313.38" y="857.50" width="1.3" height="1.4" fill="#000"/>
<rect x="310.98" y="859.35" width="1.0" height="1.2" fill="#000"/>
<rect x="313.38" y="861.20" width="1.3" height="1.4" fill="#000"/>
<rect x="310.98" y="863.05" width="1.0" height="1.2" fill="#000"/>
<rect x="313.38" y="864.90" width="1.3" height="1.4" fill="#000"/>
<rect x="310.98" y="866.75" width="1.0" height="1.2" fill="#000"/>
<rect x="313.38" y="868.60" width="1.3" height="1.4" fill="#000"/>
<rect x="310.98" y="870.45" width="1.0" height="1.2" fill="#000"/>
<rect x="313.38" y="872.30" width="1.3" height="1.4" fill="#000"/>
<rect x="310.98" y="874.15" width="1.0" height="1.2" fill="#000"/>
<rect x="313.38" y="876.00" width="1.3" height="1.4" fill="#000"/>
<rect x="310.98" y="877.85" width="1.0" height="1.2" fill="#000"/>
<rect x="313.38" y="879.70" width="1.3" height="1.4" fill="#000"/>
<rect x="310.98" y="881.55" width="1.0" height="1.2" fill="#000"/>
<rect x="313.38" y="883.40" width="1.3" height="1.4" fill="#000"/>
<rect x="310.98" y="885.25" width="1.0" height="1.2" fill="#000"/>
<rect x="313.38" y="887.10" width="1.3" height="1.4" fill="#000"/>
<rect x="310.98" y="888.95" width="1.0" height="1.2" fill="#000"/>
<rect x="313.38" y="890.80" width="1.3" height="1.4" fill="#000"/>
<rect x="310.98" y="892.65" width="1.0" height="1.2" fill="#000"/>
<line x1="322.65" y1="799.80" x2="322.65" y2="815.40" stroke="#000" stroke-width="2.8"/>
<line x1="320.55" y1="799.80" x2="324.75" y2="799.80" stroke="#000" stroke-width="2.9" stroke-linecap="round"/>
<rect x="319.40" y="815.80" width="6.50" height="80.60" fill="#000" stroke="#000" stroke-width="2.8"/>
<line x1="339.05" y1="721.30" x2="339.05" y2="734.50" stroke="#000" stroke-width="2.8"/>
<line x1="336.95" y1="721.30" x2="341.15" y2="721.30" stroke="#000" stroke-width="2.9" stroke-linecap="round"/>
<rect x="335.80" y="734.90" width="6.50" height="161.50" fill="#fff" stroke="#000" stroke-width="2.8"/>
<line x1="348.87" y1="770.50" x2="348.87" y2="786.60" stroke="#000" stroke-width="2.8"/>
<line x1="346.77" y1="770.50" x2="350.97" y2="770.50" stroke="#000" stroke-width="2.9" stroke-linecap="round"/>
<rect x="345.62" y="787.00" width="6.50" height="109.40" fill="#9a9a9a" stroke="#000" stroke-width="2.8"/>
<line x1="358.69" y1="851.50" x2="358.69" y2="856.60" stroke="#000" stroke-width="2.8"/>
<line x1="356.59" y1="851.50" x2="360.79" y2="851.50" stroke="#000" stroke-width="2.9" stroke-linecap="round"/>
<rect x="355.44" y="857.00" width="6.50" height="39.40" fill="#555" stroke="#000" stroke-width="2.8"/>
<line x1="368.51" y1="817.00" x2="368.51" y2="830.20" stroke="#000" stroke-width="2.8"/>
<line x1="366.41" y1="817.00" x2="370.61" y2="817.00" stroke="#000" stroke-width="2.9" stroke-linecap="round"/>
<rect x="365.26" y="830.60" width="6.50" height="65.80" fill="#fff" stroke="#000" stroke-width="2.8"/>
<rect x="369.36" y="834.50" width="1" height="0.9" fill="#000"/>
<rect x="366.66" y="836.70" width="0.8" height="0.8" fill="#999"/>
<rect x="369.36" y="839.00" width="1" height="0.9" fill="#000"/>
<rect x="366.66" y="841.20" width="0.8" height="0.8" fill="#999"/>
<rect x="369.36" y="843.50" width="1" height="0.9" fill="#000"/>
<rect x="366.66" y="845.70" width="0.8" height="0.8" fill="#999"/>
<rect x="369.36" y="848.00" width="1" height="0.9" fill="#000"/>
<rect x="366.66" y="850.20" width="0.8" height="0.8" fill="#999"/>
<rect x="369.36" y="852.50" width="1" height="0.9" fill="#000"/>
<rect x="366.66" y="854.70" width="0.8" height="0.8" fill="#999"/>
<rect x="369.36" y="857.00" width="1" height="0.9" fill="#000"/>
<rect x="366.66" y="859.20" width="0.8" height="0.8" fill="#999"/>
<rect x="369.36" y="861.50" width="1" height="0.9" fill="#000"/>
<rect x="366.66" y="863.70" width="0.8" height="0.8" fill="#999"/>
<rect x="369.36" y="866.00" width="1" height="0.9" fill="#000"/>
<rect x="366.66" y="868.20" width="0.8" height="0.8" fill="#999"/>
<rect x="369.36" y="870.50" width="1" height="0.9" fill="#000"/>
<rect x="366.66" y="872.70" width="0.8" height="0.8" fill="#999"/>
<rect x="369.36" y="875.00" width="1" height="0.9" fill="#000"/>
<rect x="366.66" y="877.20" width="0.8" height="0.8" fill="#999"/>
<rect x="369.36" y="879.50" width="1" height="0.9" fill="#000"/>
<rect x="366.66" y="881.70" width="0.8" height="0.8" fill="#999"/>
<rect x="369.36" y="884.00" width="1" height="0.9" fill="#000"/>
<rect x="366.66" y="886.20" width="0.8" height="0.8" fill="#999"/>
<rect x="369.36" y="888.50" width="1" height="0.9" fill="#000"/>
<rect x="366.66" y="890.70" width="0.8" height="0.8" fill="#999"/>
<rect x="369.36" y="893.00" width="1" height="0.9" fill="#000"/>
<rect x="366.66" y="895.20" width="0.8" height="0.8" fill="#999"/>
<line x1="378.33" y1="880.70" x2="378.33" y2="887.00" stroke="#000" stroke-width="2.8"/>
<line x1="376.23" y1="880.70" x2="380.43" y2="880.70" stroke="#000" stroke-width="2.9" stroke-linecap="round"/>
<rect x="375.08" y="887.40" width="6.50" height="9.00" fill="#fff" stroke="#000" stroke-width="2.8"/>
<rect x="378.88" y="889.60" width="1.3" height="1.4" fill="#000"/>
<rect x="376.48" y="891.45" width="1.0" height="1.2" fill="#000"/>
<rect x="378.88" y="893.30" width="1.3" height="1.4" fill="#000"/>
<rect x="376.48" y="895.15" width="1.0" height="1.2" fill="#000"/>
<line x1="388.15" y1="825.00" x2="388.15" y2="838.40" stroke="#000" stroke-width="2.8"/>
<line x1="386.05" y1="825.00" x2="390.25" y2="825.00" stroke="#000" stroke-width="2.9" stroke-linecap="round"/>
<rect x="384.90" y="838.80" width="6.50" height="57.60" fill="#000" stroke="#000" stroke-width="2.8"/>
<line x1="404.55" y1="774.00" x2="404.55" y2="776.00" stroke="#000" stroke-width="2.8"/>
<line x1="402.45" y1="774.00" x2="406.65" y2="774.00" stroke="#000" stroke-width="2.9" stroke-linecap="round"/>
<rect x="401.30" y="776.40" width="6.50" height="120.00" fill="#fff" stroke="#000" stroke-width="2.8"/>
<line x1="414.37" y1="741.80" x2="414.37" y2="756.00" stroke="#000" stroke-width="2.8"/>
<line x1="412.27" y1="741.80" x2="416.47" y2="741.80" stroke="#000" stroke-width="2.9" stroke-linecap="round"/>
<rect x="411.12" y="756.40" width="6.50" height="140.00" fill="#9a9a9a" stroke="#000" stroke-width="2.8"/>
<rect x="420.94" y="871.60" width="6.50" height="24.80" fill="#555" stroke="#000" stroke-width="2.8"/>
<rect x="430.76" y="877.60" width="6.50" height="18.80" fill="#fff" stroke="#000" stroke-width="2.8"/>
<rect x="434.86" y="881.50" width="1" height="0.9" fill="#000"/>
<rect x="432.16" y="883.70" width="0.8" height="0.8" fill="#999"/>
<rect x="434.86" y="886.00" width="1" height="0.9" fill="#000"/>
<rect x="432.16" y="888.20" width="0.8" height="0.8" fill="#999"/>
<rect x="434.86" y="890.50" width="1" height="0.9" fill="#000"/>
<rect x="432.16" y="892.70" width="0.8" height="0.8" fill="#999"/>
<line x1="443.83" y1="880.10" x2="443.83" y2="887.40" stroke="#000" stroke-width="2.8"/>
<line x1="441.73" y1="880.10" x2="445.93" y2="880.10" stroke="#000" stroke-width="2.9" stroke-linecap="round"/>
<rect x="440.58" y="887.80" width="6.50" height="8.60" fill="#fff" stroke="#000" stroke-width="2.8"/>
<rect x="444.38" y="890.00" width="1.3" height="1.4" fill="#000"/>
<rect x="441.98" y="891.85" width="1.0" height="1.2" fill="#000"/>
<rect x="444.38" y="893.70" width="1.3" height="1.4" fill="#000"/>
<rect x="441.98" y="895.55" width="1.0" height="1.2" fill="#000"/>
<line x1="453.65" y1="802.00" x2="453.65" y2="817.20" stroke="#000" stroke-width="2.8"/>
<line x1="451.55" y1="802.00" x2="455.75" y2="802.00" stroke="#000" stroke-width="2.9" stroke-linecap="round"/>
<rect x="450.40" y="817.60" width="6.50" height="78.80" fill="#000" stroke="#000" stroke-width="2.8"/>
<rect x="484.15" y="688.45" width="23.10" height="14.30" rx="0.8" fill="#fff" stroke="#000" stroke-width="2.9"/>
<text x="519.5" y="702.2" font-family='"Liberation Sans", sans-serif' font-size="17.6">I</text>
<text x="525.9" y="702.2" font-family='"Liberation Sans", sans-serif' font-size="17.6" textLength="23.2" lengthAdjust="spacingAndGlyphs">FN</text>
<text x="0" y="0" transform="translate(548.6 702.2) skewX(-12)" font-family='"Liberation Sans", sans-serif' font-size="17" textLength="6.5" lengthAdjust="spacingAndGlyphs">γ</text>
<rect x="484.15" y="713.35" width="23.10" height="12.00" rx="0.8" fill="#9a9a9a" stroke="#000" stroke-width="2.9"/>
<text x="519.6" y="724.6" font-family='"Liberation Sans", sans-serif' font-size="17.6" textLength="25.7" lengthAdjust="spacing">IL2</text>
<rect x="484.15" y="740.65" width="23.10" height="12.10" rx="0.8" fill="#555" stroke="#000" stroke-width="2.9"/>
<text x="519.6" y="751.9" font-family='"Liberation Sans", sans-serif' font-size="17.6" textLength="26.1" lengthAdjust="spacing">IL6</text>
<rect x="484.15" y="765.45" width="23.10" height="11.40" rx="0.8" fill="url(#p10)" stroke="#000" stroke-width="2.9"/>
<text x="519.6" y="776.5" font-family='"Liberation Sans", sans-serif' font-size="17.6" textLength="35.6" lengthAdjust="spacing">IL10</text>
<rect x="484.15" y="790.35" width="23.10" height="12.00" rx="0.8" fill="url(#p12)" stroke="#000" stroke-width="2.9"/>
<text x="519.6" y="801.6" font-family='"Liberation Sans", sans-serif' font-size="17.6" textLength="35.6" lengthAdjust="spacing">IL12</text>
<rect x="484.15" y="815.45" width="23.10" height="13.70" rx="0.8" fill="#000" stroke="#000" stroke-width="2.9"/>
<text x="519.6" y="829.3" font-family='"Liberation Sans", sans-serif' font-size="17.6" textLength="33.4" lengthAdjust="spacing">TNF</text>
<text x="552.2" y="829.3" font-family='"Liberation Sans", sans-serif' font-size="17.6" textLength="11.8" lengthAdjust="spacingAndGlyphs">α</text>
</svg>
</body></html>
